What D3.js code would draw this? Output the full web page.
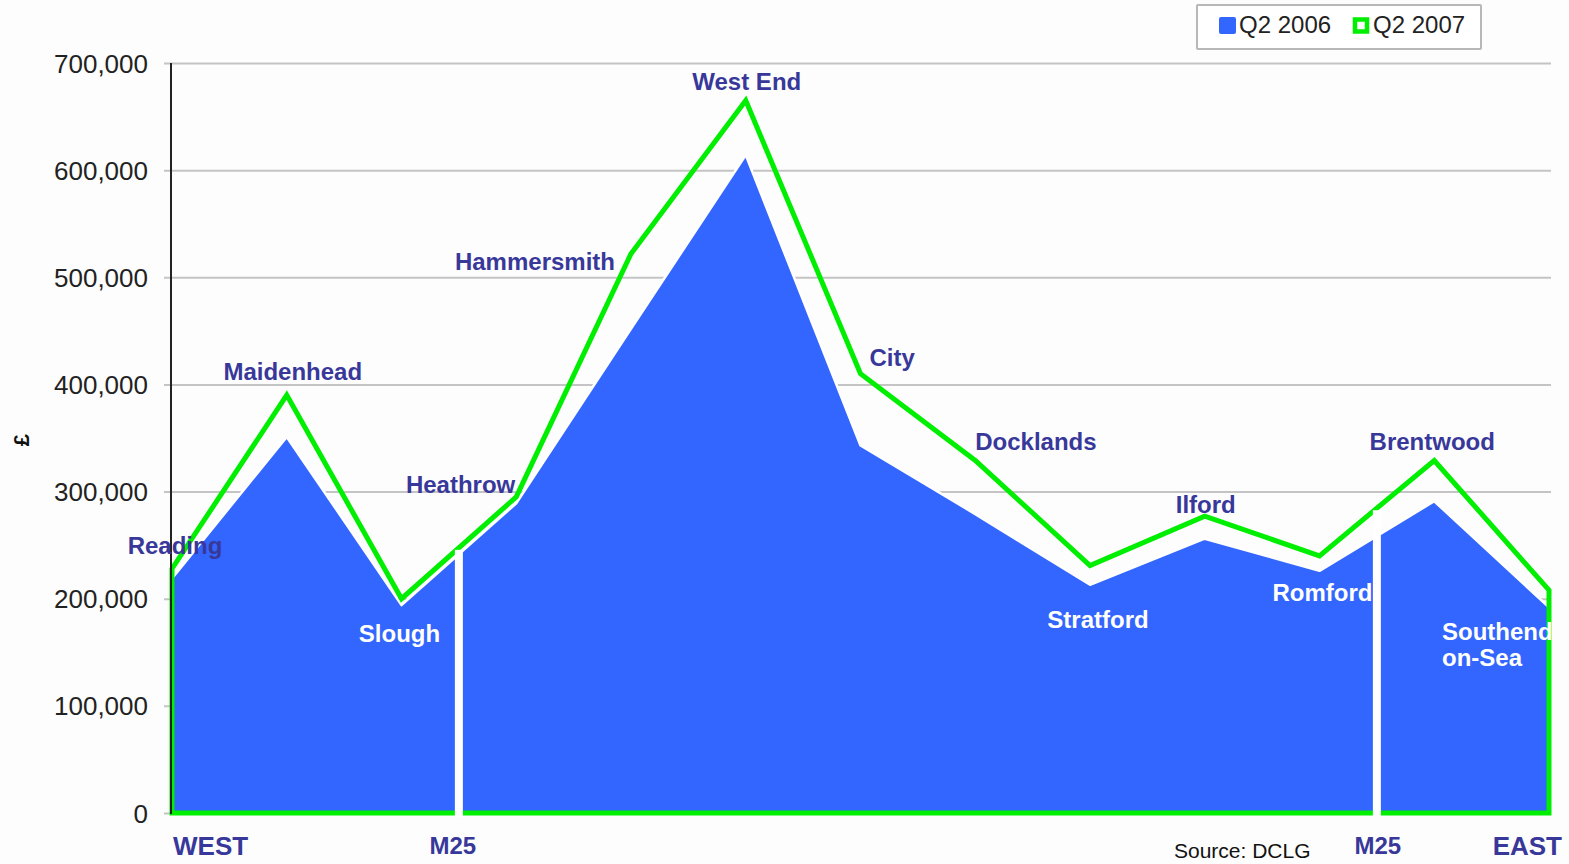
<!DOCTYPE html>
<html>
<head>
<meta charset="utf-8">
<script src="https://cdn.jsdelivr.net/npm/d3@7"></script>
<style>
  html, body { margin: 0; padding: 0; background: #fdfdfd; }
  svg { display: block; }
  text { font-family: "Liberation Sans", Arial, sans-serif; }
</style>
</head>
<body>
<svg id="chart" width="1569" height="864"></svg>
<script>
// Average house prices along the west–east corridor through London (£)
const places = ["Reading", "Maidenhead", "Slough", "Heathrow", "Hammersmith", "West End",
                "City", "Docklands", "Stratford", "Ilford", "Romford", "Brentwood", "Southend"];
const q2_2006 = [219000, 351000, 194000, 289000, 452000, 614000, 343000, 279000, 213000, 256000, 226000, 291000, 192000];
const q2_2007 = [228000, 390000, 200000, 295000, 522000, 665000, 410000, 329000, 231000, 277000, 240000, 329000, 208000];
const yTicks = [0, 100000, 200000, 300000, 400000, 500000, 600000, 700000];
const seriesNames = ["Q2 2006", "Q2 2007"];
// M25 crossings, as positions along the place sequence
const m25Crossings = [2.5, 10.5];
const endLabels = ["WEST", "EAST"];
const sourceNote = "Source: DCLG";

const BLUE = "#3366ff", GREEN = "#00ee00", NAVY = "#38389a";

const svg = d3.select("#chart");
const plotL = 172, plotR = 1549, plotT = 63, plotB = 813;

const x = d3.scaleLinear().domain([0, places.length - 1]).range([plotL, plotR]);
const y = d3.scaleLinear().domain([0, 700000]).range([plotB, plotT]);

// gridlines with short ticks
const yAxis = d3.axisLeft(y).tickValues(yTicks).tickFormat(d3.format(","))
  .tickSize(-(plotR + 2 - plotL + 8)).tickPadding(16);
const gAxis = svg.append("g").attr("transform", `translate(${plotL - 8},0)`).call(yAxis);
gAxis.select(".domain").remove();
gAxis.selectAll(".tick line").attr("stroke", "#c4c4c4").attr("stroke-width", 2);
gAxis.selectAll(".tick text").attr("font-size", 26).attr("fill", "#222")
  .attr("x", -16).attr("dy", "0.35em");

// 2006 filled area
const area06 = d3.area().x((d, i) => x(i)).y0(y(0)).y1(d => y(d));
svg.append("path").datum(q2_2006).attr("d", area06).attr("fill", BLUE);
const top06 = d3.line().x((d, i) => x(i)).y(d => y(d));
svg.append("path").datum(q2_2006).attr("d", top06)
  .attr("fill", "none").attr("stroke", "#fff").attr("stroke-width", 2.5)
  .attr("stroke-linejoin", "round");

// 2007 outline: baseline, sides and top
const pts07 = q2_2007.map((v, i) => [x(i), y(v)]);
const outline07 = [[x(0), y(0)], ...pts07, [x(places.length - 1), y(0)]];
svg.append("path").datum(outline07)
  .attr("d", d3.line().curve(d3.curveLinearClosed))
  .attr("fill", "none").attr("stroke", GREEN).attr("stroke-width", 5)
  .attr("stroke-linejoin", "miter");

// M25 markers cut through both series
function interp07(p) {
  const i = Math.floor(p), t = p - i;
  return q2_2007[i] + (q2_2007[i + 1] - q2_2007[i]) * t;
}
svg.selectAll("rect.m25").data(m25Crossings).join("rect")
  .attr("class", "m25")
  .attr("x", d => x(d) - 4).attr("width", 8)
  .attr("y", d => y(interp07(d)) + 2)
  .attr("height", d => y(0) + 4 - (y(interp07(d)) + 2))
  .attr("fill", "#fff");

// y axis line
svg.append("line").attr("x1", plotL - 1).attr("x2", plotL - 1)
  .attr("y1", plotT).attr("y2", plotB + 1).attr("stroke", "#222").attr("stroke-width", 2);

// place labels: anchor, offset from point, which series it hangs from, colour
const labelLayout = {
  "Reading":     { a: "middle", dx: 3,    dy: -15, s: 1, c: NAVY },
  "Maidenhead":  { a: "middle", dx: 6,    dy: -15, s: 1, c: NAVY },
  "Slough":      { a: "middle", dx: -2,   dy: 37,  s: 0, c: "#fff" },
  "Heathrow":    { a: "end",    dx: -1,   dy: -4,  s: 1, c: NAVY },
  "Hammersmith": { a: "end",    dx: -16,  dy: 16,  s: 1, c: NAVY },
  "West End":    { a: "middle", dx: 1,    dy: -11, s: 1, c: NAVY },
  "City":        { a: "start",  dx: 9,    dy: -8,  s: 1, c: NAVY },
  "Docklands":   { a: "start",  dx: 0,    dy: -11, s: 1, c: NAVY },
  "Stratford":   { a: "middle", dx: 8,    dy: 43,  s: 0, c: "#fff" },
  "Ilford":      { a: "middle", dx: 1,    dy: -3,  s: 1, c: NAVY },
  "Romford":     { a: "middle", dx: 3,    dy: 30,  s: 0, c: "#fff" },
  "Brentwood":   { a: "middle", dx: -2,   dy: -11, s: 1, c: NAVY },
  "Southend":    { a: "start",  dx: -107, dy: 33,  s: 0, c: "#fff" }
};
const labelText = { "Southend": ["Southend", "on-Sea"] };
const series = [q2_2006, q2_2007];
places.forEach((p, i) => {
  const L = labelLayout[p];
  const px = x(i) + L.dx, py = y(series[L.s][i]) + L.dy;
  const t = svg.append("text").attr("x", px).attr("y", py)
    .attr("text-anchor", L.a).attr("font-size", 24).attr("font-weight", "bold")
    .attr("fill", L.c);
  (labelText[p] || [p]).forEach((line, k) => {
    t.append("tspan").attr("x", px).attr("dy", k === 0 ? 0 : 26).text(line);
  });
});

// west / east and M25 captions under the axis
svg.append("text").attr("x", x(0) + 1).attr("y", 855).attr("font-size", 26)
  .attr("font-weight", "bold").attr("fill", NAVY).text(endLabels[0]);
svg.append("text").attr("x", x(places.length - 1) + 13).attr("y", 855).attr("text-anchor", "end")
  .attr("font-size", 26).attr("font-weight", "bold").attr("fill", NAVY).text(endLabels[1]);
const m25LabelShift = [-6, 1];
svg.selectAll("text.m25lab").data(m25Crossings).join("text").attr("class", "m25lab")
  .attr("x", (d, i) => x(d) + m25LabelShift[i]).attr("y", 854).attr("text-anchor", "middle")
  .attr("font-size", 24).attr("font-weight", "bold").attr("fill", NAVY).text("M25");
svg.append("text").attr("x", 1174).attr("y", 858).attr("font-size", 21)
  .attr("fill", "#111").text(sourceNote);

// y axis title
svg.append("text").attr("transform", "translate(29,440) rotate(-90)")
  .attr("text-anchor", "middle").attr("font-size", 22).attr("font-weight", "bold")
  .attr("fill", "#111").text("£");

// legend
const lg = svg.append("g");
lg.append("rect").attr("x", 1197).attr("y", 5).attr("width", 284).attr("height", 44)
  .attr("fill", "#fff").attr("stroke", "#b8b8b8").attr("stroke-width", 2).attr("rx", 1);
lg.append("rect").attr("x", 1219).attr("y", 17).attr("width", 17).attr("height", 17)
  .attr("rx", 2).attr("fill", BLUE);
lg.append("text").attr("x", 1239).attr("y", 33).attr("font-size", 24).attr("fill", "#222")
  .text(seriesNames[0]);
lg.append("rect").attr("x", 1355).attr("y", 19.5).attr("width", 12).attr("height", 12)
  .attr("fill", "#fff").attr("stroke", GREEN).attr("stroke-width", 4.5);
lg.append("text").attr("x", 1373).attr("y", 33).attr("font-size", 24).attr("fill", "#222")
  .text(seriesNames[1]);
</script>
</body>
</html>
